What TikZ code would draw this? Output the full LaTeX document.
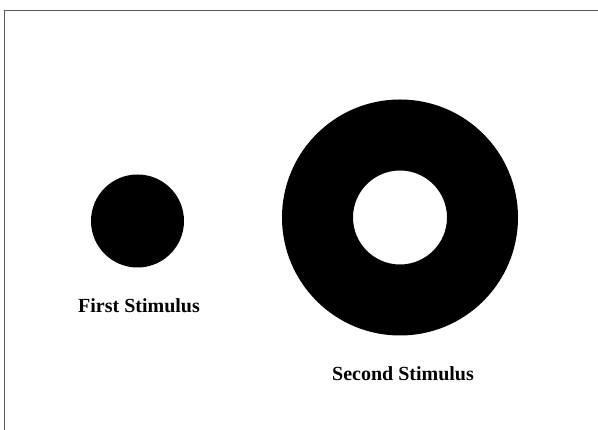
\documentclass[tikz,border=0pt]{standalone}
\usepackage{fontspec}
\setmainfont{Liberation Serif}
\usepackage[dvipsnames]{xcolor}

\tikzset{
  stimtxt/.style={anchor=base, font=\fontsize{20}{24}\selectfont\bfseries},
  disque/.style={circle, fill=black, inner sep=0pt}
}

\begin{document}
\begin{tikzpicture}[x=1pt,y=1pt]
\useasboundingbox (0,0) rectangle (598,430);
%cadre
\coordinate (coin) at (4.5,419.5);
\draw [line width=1.5pt, black!65] (598,419.5) -- (coin) -- (4.5,0);

%premier stimulus : disque plein
\node[disque, minimum size=93pt] (premier) at (137.5,209) {};
\node[stimtxt] (lab1) at (139,117) {First Stimulus};

%second stimulus : anneau
\coordinate (centre) at (400,212.5);
\fill [even odd rule] (centre) circle [radius=118] (centre) circle [radius=47];
\node[stimtxt] (lab2) at (403,49) {Second Stimulus};

\end{tikzpicture}
\end{document}
